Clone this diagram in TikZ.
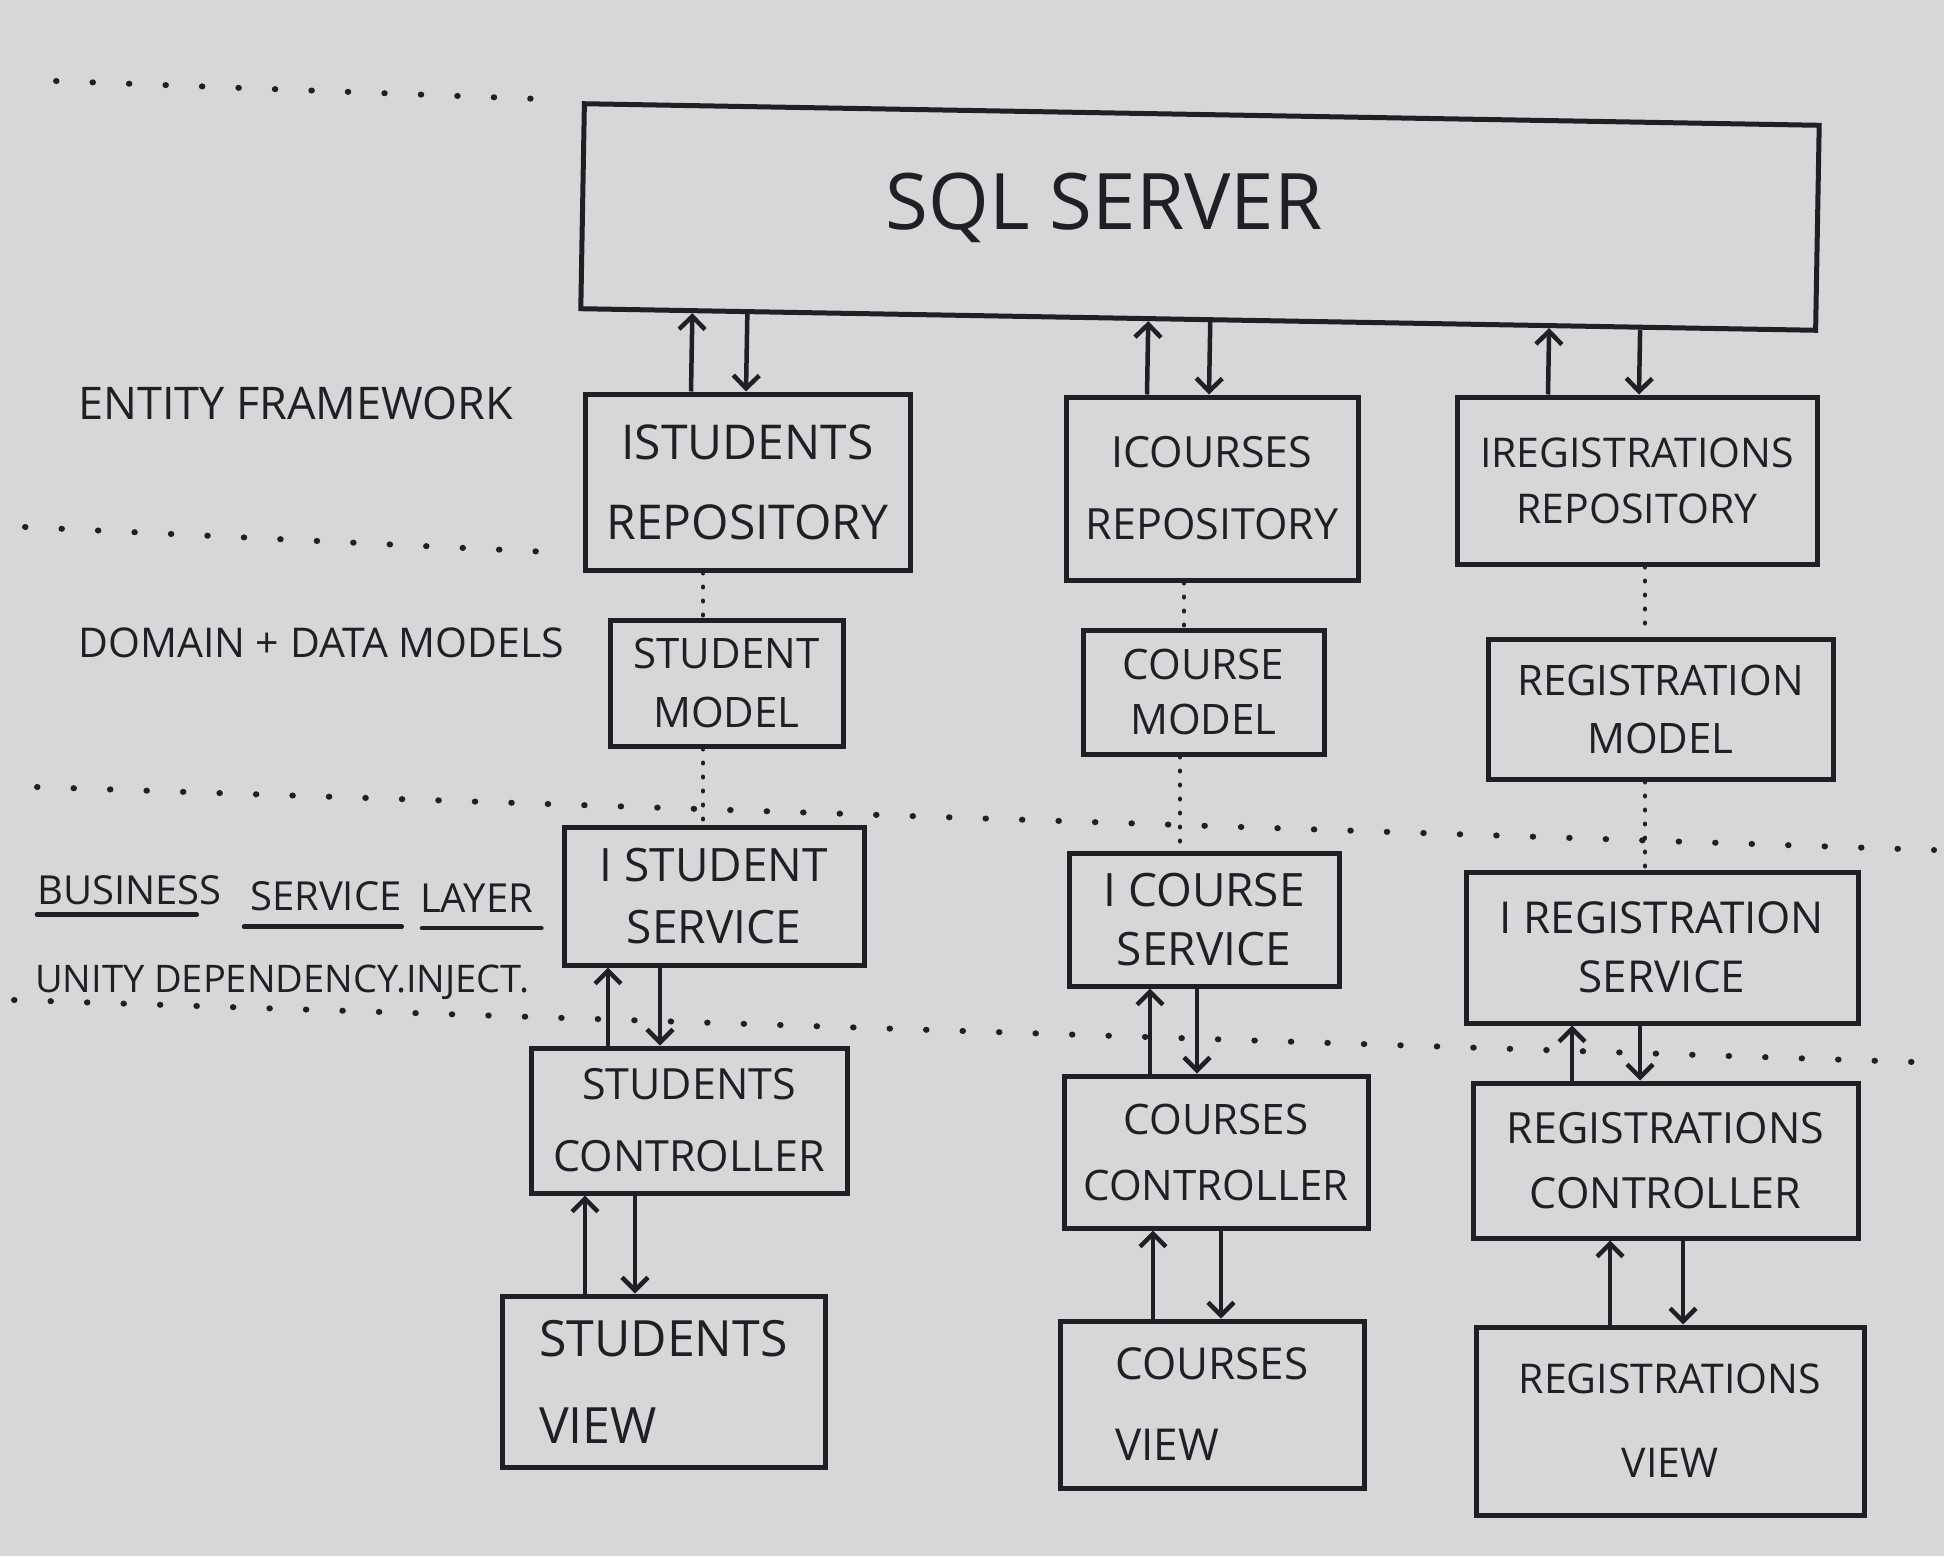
\documentclass[tikz,border=0pt]{standalone}
\usepackage{fontspec}
\setmainfont{Open Sans}
\usetikzlibrary{arrows.meta,calc}
\definecolor{paper}{RGB}{214,215,217}
\definecolor{ink}{RGB}{32,32,36}
\newcommand\fsz[2]{\fontsize{#1}{#2}\selectfont}
\begin{document}
\begin{tikzpicture}[x=1pt,y=-1pt,
  box/.style={draw=ink,fill=paper,line width=5pt,rectangle,align=center,text=ink,inner sep=0pt},
  lbl/.style={text=ink,inner sep=0pt},
  arr/.style={draw=ink,line width=4.5pt,-{Straight Barb[length=13pt,width=26pt,line width=4.5pt]}},
  dots/.style={draw=ink,line width=6pt,line cap=round,dash pattern=on 0.5pt off 36pt},
  vdots/.style={draw=ink,line width=4pt,line cap=round,dash pattern=on 1pt off 13pt},
  uline/.style={draw=ink,line width=4.5pt,line cap=round}]
\fill[paper] (0,0) rectangle (1944,1556);
\useasboundingbox (0,0) rectangle (1944,1556);

% layer separators
\coordinate (d1a) at (56,81);   \coordinate (d1b) at (540,99);
\coordinate (d2a) at (25,527);  \coordinate (d2b) at (570,553);
\coordinate (d3a) at (37,787);  \coordinate (d3b) at (1934,850);
\coordinate (d4a) at (14,1000); \coordinate (d4b) at (1944,1063);
\draw[dots] (d1a) -- (d1b);
\draw[dots] (d2a) -- (d2b);
\draw[dots] (d3a) -- (d3b);
\draw[dots] (d4a) -- (d4b);

% SQL server
\node[box,minimum width=1235pt,minimum height=205pt,rotate=-1] (sql) at (1200,217) {};
\node[lbl,font=\fsz{78}{90}] (sqltxt) at (1104,208) {SQL SERVER};

% column 1
\node[box,minimum width=325pt,minimum height=176pt,font=\fsz{48}{80}] (srepo) at (747.5,482) {ISTUDENTS\\REPOSITORY};
\node[box,minimum width=233pt,minimum height=126pt,font=\fsz{42}{59}] (smodel) at (726.5,683) {STUDENT\\MODEL};
\node[box,minimum width=300pt,minimum height=138pt,font=\fsz{46}{62}] (sserv) at (714,896) {I STUDENT\\SERVICE};
\node[box,minimum width=316pt,minimum height=145pt,font=\fsz{43}{72}] (sctrl) at (689,1120.5) {STUDENTS\\CONTROLLER};
\node[box,minimum width=323pt,minimum height=171pt,font=\fsz{50}{87},align=left] (sview) at (663.5,1381.5) {STUDENTS\\VIEW};

% column 2
\node[box,minimum width=292pt,minimum height=183pt,font=\fsz{43}{72}] (crepo) at (1212,488.5) {ICOURSES\\REPOSITORY};
\node[box,minimum width=241pt,minimum height=124pt,font=\fsz{42}{55}] (cmodel) at (1203.5,692) {COURSE\\MODEL};
\node[box,minimum width=270pt,minimum height=133pt,font=\fsz{46}{59}] (cserv) at (1204,919.5) {I COURSE\\SERVICE};
\node[box,minimum width=304pt,minimum height=152pt,font=\fsz{42}{66}] (cctrl) at (1216,1152) {COURSES\\CONTROLLER};
\node[box,minimum width=304pt,minimum height=167pt,font=\fsz{44}{81},align=left] (cview) at (1212,1404.5) {COURSES\\VIEW};

% column 3
\node[box,minimum width=360pt,minimum height=167pt,font=\fsz{41}{56}] (rrepo) at (1637,480.5) {IREGISTRATIONS\\REPOSITORY};
\node[box,minimum width=345pt,minimum height=140pt,font=\fsz{42}{58}] (rmodel) at (1660.5,709) {REGISTRATION\\MODEL};
\node[box,minimum width=392pt,minimum height=151pt,font=\fsz{44}{59}] (rserv) at (1662,947.5) {I REGISTRATION\\SERVICE};
\node[box,minimum width=385pt,minimum height=155pt,font=\fsz{43}{65}] (rctrl) at (1665.5,1160.5) {REGISTRATIONS\\CONTROLLER};
\node[box,minimum width=388pt,minimum height=188pt,font=\fsz{41}{84}] (rview) at (1670,1421) {REGISTRATIONS\\VIEW};

% left labels
\node[lbl,anchor=west,font=\fsz{45}{50}] (ef) at (78,403) {ENTITY FRAMEWORK};
\node[lbl,anchor=west,font=\fsz{41}{46}] (dm) at (78,643) {DOMAIN + DATA MODELS};
\node[lbl,anchor=base west,font=\fsz{40}{46}] (bus) at (37,904) {BUSINESS};
\node[lbl,anchor=base west,font=\fsz{40}{46}] (svc) at (250,910) {SERVICE};
\node[lbl,anchor=base west,font=\fsz{40}{46}] (lay) at (420,912) {LAYER};
\node[lbl,anchor=base west,font=\fsz{38}{42}] (unity) at (35,992) {UNITY DEPENDENCY.INJECT.};
\draw[uline] ($(bus.south west)+(0,10)$) -- ($(bus.south east)+(-25,10)$);
\draw[uline] ($(svc.south west)+(-6,16)$) -- ($(svc.south east)+(0,16)$);
\draw[uline] ($(lay.south west)+(2,16)$) -- ($(lay.south east)+(8,16)$);

% SQL <-> repositories
\coordinate (a1) at ([xshift=-56.5pt]srepo.north);
\coordinate (a2) at ([xshift=-1.5pt]srepo.north);
\coordinate (a3) at ([xshift=-65pt]crepo.north);
\coordinate (a4) at ([xshift=-3pt]crepo.north);
\coordinate (a5) at ([xshift=-89pt]rrepo.north);
\coordinate (a6) at ([xshift=2pt]rrepo.north);
\draw[arr] (a1) -- ($(sql.south west)!(a1)!(sql.south east)$);
\draw[arr] ($(sql.south west)!(a2)!(sql.south east)$) -- (a2);
\draw[arr] (a3) -- ($(sql.south west)!(a3)!(sql.south east)$);
\draw[arr] ($(sql.south west)!(a4)!(sql.south east)$) -- (a4);
\draw[arr] (a5) -- ($(sql.south west)!(a5)!(sql.south east)$);
\draw[arr] ($(sql.south west)!(a6)!(sql.south east)$) -- (a6);

% repository .. model .. service (dotted)
\draw[vdots] ([xshift=-44.5pt]srepo.south) -- ([xshift=-23.5pt]smodel.north);
\draw[vdots] ([xshift=-23.5pt]smodel.south) -- ([xshift=-11pt]sserv.north);
\draw[vdots] ([xshift=-28pt]crepo.south) -- ([xshift=-19.5pt]cmodel.north);
\draw[vdots] ([xshift=-23.5pt]cmodel.south) -- ([xshift=-24pt]cserv.north);
\draw[vdots] ([xshift=8pt]rrepo.south) -- ([xshift=-15.5pt]rmodel.north);
\draw[vdots] ([xshift=-15.5pt]rmodel.south) -- ([xshift=-17pt]rserv.north);

% service <-> controller
\draw[arr] ([xshift=-81pt]sctrl.north) -- ([xshift=-106pt]sserv.south);
\draw[arr] ([xshift=-54pt]sserv.south) -- ([xshift=-29pt]sctrl.north);
\draw[arr] ([xshift=-66pt]cctrl.north) -- ([xshift=-54pt]cserv.south);
\draw[arr] ([xshift=-7pt]cserv.south) -- ([xshift=-19pt]cctrl.north);
\draw[arr] ([xshift=-93.5pt]rctrl.north) -- ([xshift=-90pt]rserv.south);
\draw[arr] ([xshift=-22pt]rserv.south) -- ([xshift=-25.5pt]rctrl.north);

% controller <-> view
\draw[arr] ([xshift=-78.5pt]sview.north) -- ([xshift=-104pt]sctrl.south);
\draw[arr] ([xshift=-54pt]sctrl.south) -- ([xshift=-28.5pt]sview.north);
\draw[arr] ([xshift=-59pt]cview.north) -- ([xshift=-63pt]cctrl.south);
\draw[arr] ([xshift=5pt]cctrl.south) -- ([xshift=9pt]cview.north);
\draw[arr] ([xshift=-60pt]rview.north) -- ([xshift=-55.5pt]rctrl.south);
\draw[arr] ([xshift=17.5pt]rctrl.south) -- ([xshift=13pt]rview.north);
\end{tikzpicture}
\end{document}
